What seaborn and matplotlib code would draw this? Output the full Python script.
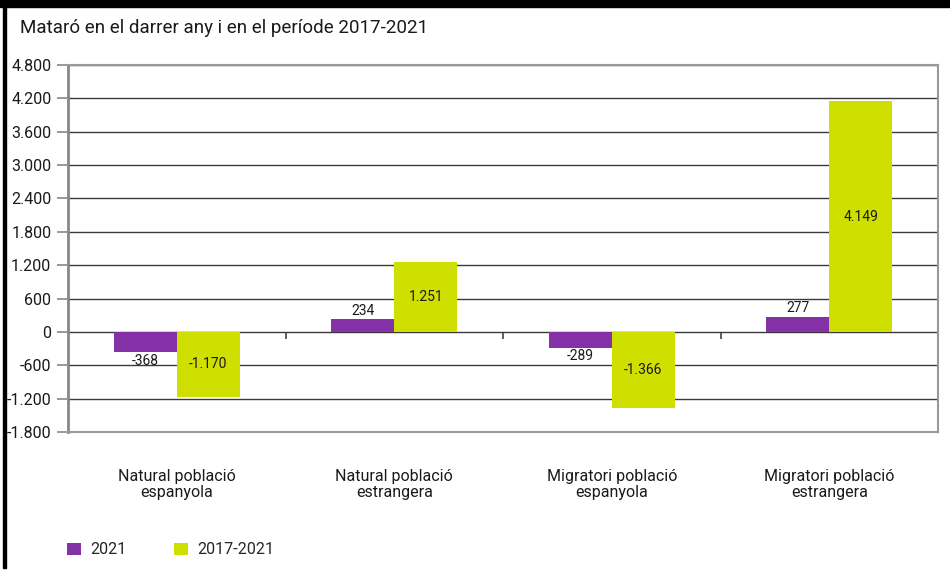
import numpy as np
import pandas as pd
import matplotlib
matplotlib.use("Agg")
import matplotlib.pyplot as plt
from matplotlib.patches import Rectangle, Patch
import seaborn as sns

# --- data ---
categories = ["Natural població\nespanyola", "Natural població\nestrangera",
              "Migratori població\nespanyola", "Migratori població\nestrangera"]
series_names = ["2021", "2017-2021"]
values_2021 = [-368, 234, -289, 277]
values_2017_2021 = [-1170, 1251, -1366, 4149]
yticks = list(range(-1800, 4801, 600))
title = "Mataró en el darrer any i en el període 2017-2021"

colors = {"2021": "#8431A7", "2017-2021": "#CFDF00"}

df = pd.DataFrame({
    "categoria": categories * 2,
    "serie": [series_names[0]] * 4 + [series_names[1]] * 4,
    "valor": values_2021 + values_2017_2021,
})

sns.set_style("white")
plt.rcParams["font.family"] = ["Liberation Sans Narrow", "Roboto", "DejaVu Sans"]

W, H = 950, 571
fig = plt.figure(figsize=(W / 100, H / 100), dpi=100)
ax = fig.add_axes([68 / W, 1 - 432 / H, (938 - 68) / W, (432 - 65) / H])

sns.barplot(data=df, x="categoria", y="valor", hue="serie", palette=colors,
            hue_order=series_names, width=0.58, gap=0, saturation=1,
            legend=False, linewidth=0, edgecolor="none", ax=ax)

def fmt(v):
    return f"{v:,.0f}".replace(",", ".")

# value labels: purple outside the bar end, green centred inside
ax.bar_label(ax.containers[0], labels=[fmt(v) for v in values_2021],
             label_type="edge", padding=1, fontsize=10, color="#1a1a1a")
ax.bar_label(ax.containers[1], labels=[fmt(v) for v in values_2017_2021],
             label_type="center", fontsize=10, color="#1a1a1a")

ax.set_ylim(-1800, 4800)
ax.set_xlim(-0.5, 3.5)
ax.set_yticks(yticks)
ax.set_yticklabels([fmt(t) for t in yticks], fontsize=11.5, color="#1a1a1a")
ax.tick_params(axis="y", length=8, width=1.2, color="#888888", pad=4, left=True)
ax.set_xticks(range(len(categories)))
ax.set_xticklabels(categories, fontsize=11.5, color="#1a1a1a", linespacing=1.0)
ax.tick_params(axis="x", length=0, pad=27)
ax.set_xlabel("")
ax.set_ylabel("")

ax.yaxis.grid(True, color="#3a3a3a", linewidth=1.0)
ax.set_axisbelow(True)
for side in ["top", "right", "bottom"]:
    ax.spines[side].set_color("#999999")
    ax.spines[side].set_linewidth(1.5)
ax.spines["left"].set_color("#888888")
ax.spines["left"].set_linewidth(2)

# category separators on the zero line
zero_frac = (0 - (-1800)) / (4800 - (-1800))
sec = ax.secondary_xaxis(zero_frac)
sec.set_xticks([0.5, 1.5, 2.5])
sec.set_xticklabels([])
sec.tick_params(axis="x", length=5, width=1.2, color="#444444", direction="out")
sec.spines["bottom"].set_visible(False)

fig.text(20 / W, 1 - 28 / H, title, fontsize=13.5, color="#1a1a1a", va="center", ha="left")

handles = [Patch(facecolor=colors[s], edgecolor="none") for s in series_names]
fig.legend(handles, series_names, loc="center left", bbox_to_anchor=(67 / W, 1 - 550 / H),
           ncol=2, frameon=False, fontsize=11.5, handlelength=0.85, handleheight=0.85,
           handletextpad=0.6, columnspacing=3.0, borderaxespad=0, borderpad=0)

# black frame pieces of the original page
fig.add_artist(Rectangle((0, 1 - 7 / H), 1, 7 / H, transform=fig.transFigure,
                         color="black", zorder=10))
fig.add_artist(Rectangle((3 / W, 3 / H), 3 / W, 1, transform=fig.transFigure,
                         color="black", zorder=10))

fig.savefig("out.png", dpi=100)
